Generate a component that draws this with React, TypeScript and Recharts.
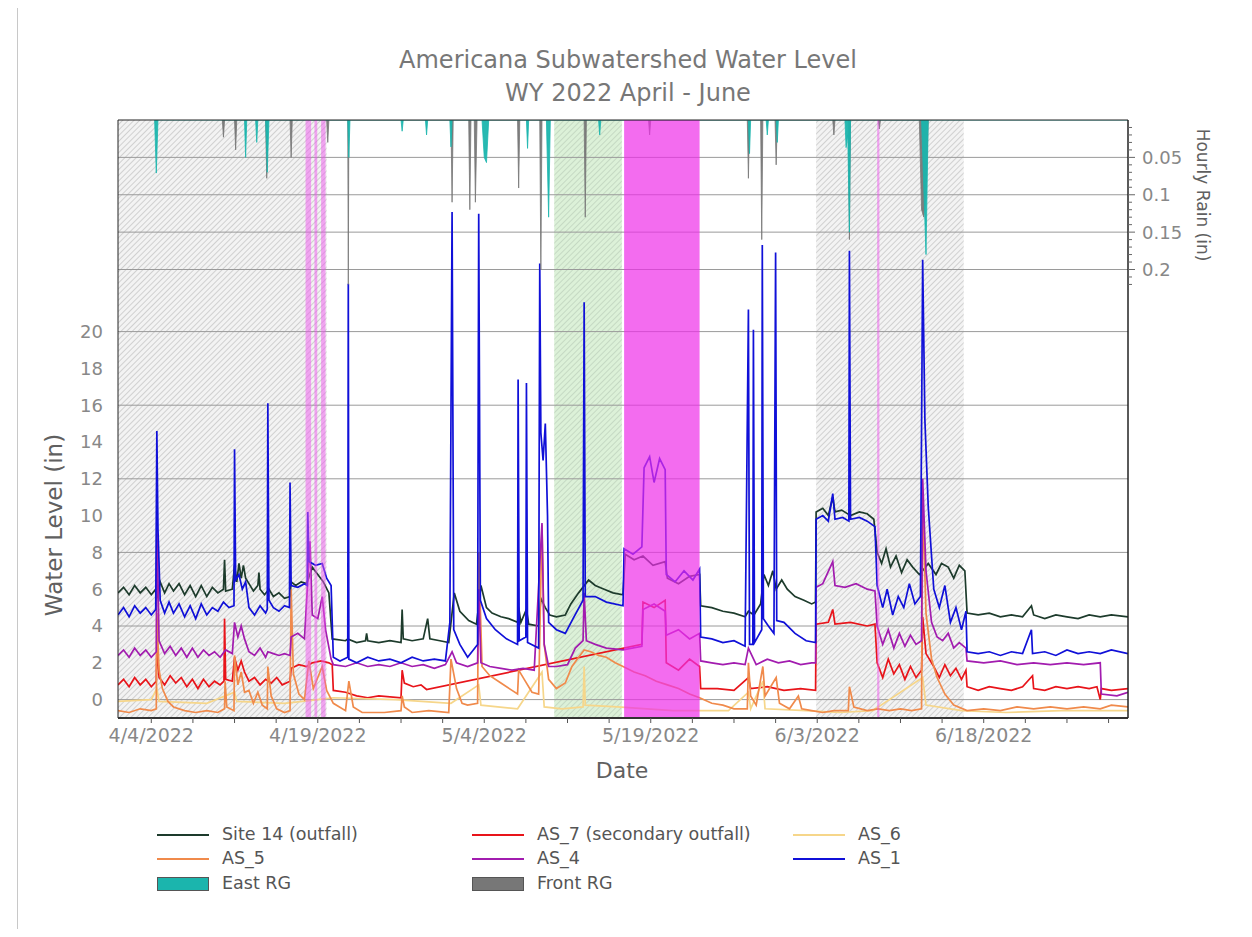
import React from 'react';
import { ComposedChart, Line, Area, XAxis, YAxis, ReferenceArea, ReferenceLine } from 'recharts';

// time axis = days since 4/1/2022 00:00
const xTicks = [3, 6.75, 10.5, 14.25, 18, 21.75, 25.5, 29.25, 33, 36.75, 40.5, 44.25, 48, 51.75, 55.5, 59.25, 63, 66.75, 70.5, 74.25, 78, 81.75, 85.5, 89.25];
const labelDays = [3, 18, 33, 48, 63, 78];
const labelText = ['4/4/2022', '4/19/2022', '5/4/2022', '5/19/2022', '6/3/2022', '6/18/2022'];

const levelTicks = [0, 2, 4, 6, 8, 10, 12, 14, 16, 18, 20];
const levelGrid = [0, 4, 8, 12, 16, 20];
const rainTicks = [0.01, 0.02, 0.03, 0.04, 0.05, 0.06, 0.07, 0.08, 0.09, 0.1, 0.11, 0.12, 0.13, 0.14, 0.15, 0.16, 0.17, 0.18, 0.19, 0.2, 0.21, 0.22];
const rainLabels = [0.05, 0.1, 0.15, 0.2];

const grayBands = [[0, 18.8], [62.9, 76.2]];
const greenBand = [39.3, 45.4];
const magentaBand = [45.6, 52.4];
const pinkStripes = [[16.9, 17.4], [17.7, 17.95], [18.3, 18.7], [68.4, 68.6]];

const site14 = [
  [0, 5.8], [0.5, 6.1], [1, 5.7], [1.5, 6.2], [2, 5.8], [2.5, 6.1], [3, 5.7], [3.4, 6.0], [3.5, 5.5], [3.8, 6.4], [4.2, 5.8], [4.6, 6.3],
  [5, 5.9], [5.5, 6.3], [6, 5.7], [6.5, 6.2], [7, 5.6], [7.5, 6.2], [8, 5.6], [8.5, 6.1], [9, 5.8], [9.5, 6.0], [9.6, 7.6], [9.7, 5.9],
  [10.3, 6.0], [10.5, 7.3], [10.7, 6.4], [10.9, 7.4], [11.1, 6.6], [11.3, 7.3], [11.5, 6.6], [11.8, 6.3], [12.2, 5.9], [12.6, 6.2],
  [12.7, 6.9], [12.8, 6.0], [13.2, 5.7], [13.6, 6.0], [14, 5.6], [14.5, 5.8], [15, 5.5], [15.5, 5.6], [15.6, 6.4], [16, 6.2], [16.5, 6.4],
  [17, 6.3], [17.5, 7.2], [18, 6.8], [18.5, 6.4], [19, 5.8], [19.3, 3.3], [20.5, 3.2], [20.7, 3.3], [21.5, 3.1], [22.3, 3.2], [22.4, 3.6],
  [22.5, 3.2], [23.5, 3.1], [24.5, 3.2], [25.5, 3.1], [25.6, 4.9], [25.7, 3.3], [26.5, 3.2], [27.5, 3.3], [27.9, 4.4], [28.1, 3.3], [29, 3.2],
  [29.8, 3.1], [30.3, 5.8], [30.8, 4.8], [31.6, 4.3], [32.3, 4.1], [32.7, 6.2], [33.2, 5.0], [33.7, 4.7], [34.5, 4.5], [35.2, 4.4], [36, 4.2],
  [36.1, 5.0], [36.3, 4.2], [36.8, 4.9], [37, 4.1], [37.9, 4.0], [38.1, 5.5], [38.5, 5.0], [38.9, 4.6], [39.5, 4.5], [40.3, 4.6], [40.8, 5.2],
  [41.5, 5.8], [42.4, 6.5], [43, 6.2], [43.8, 6.0], [44.6, 5.8], [45.5, 5.7], [45.7, 7.9], [46.5, 7.6], [47.3, 7.8], [48.2, 7.3], [49.3, 7.5],
  [49.5, 6.6], [50.5, 6.3], [51.5, 6.7], [52.4, 6.8], [52.5, 5.1], [53.5, 5.0], [54.5, 4.8], [55.5, 4.7], [56.5, 4.5], [56.8, 4.8], [57.3, 4.6],
  [57.9, 5.2], [58.2, 6.8], [58.6, 6.2], [59, 7.0], [59.3, 6.0], [59.8, 6.5], [60.3, 6.0], [61, 5.6], [61.8, 5.4], [62.5, 5.2], [62.85, 5.3],
  [62.9, 10.2], [63.5, 10.4], [64, 10.0], [64.4, 11.0], [64.6, 10.2], [65.2, 10.3], [66, 10.0], [66.8, 10.2], [67.5, 10.1], [68.1, 9.8],
  [68.4, 8.0], [68.8, 7.4], [69.2, 8.2], [69.6, 7.2], [70.1, 7.8], [70.6, 6.9], [71.1, 7.6], [71.6, 7.2], [72.2, 6.8], [72.5, 7.0], [73, 7.4],
  [73.7, 6.8], [74.2, 7.4], [74.8, 7.2], [75.3, 6.6], [75.8, 7.3], [76.3, 7.0], [76.5, 4.7], [77.5, 4.6], [78.5, 4.7], [79.5, 4.5], [80.5, 4.6],
  [81.5, 4.5], [82.3, 5.1], [82.5, 4.6], [83.5, 4.4], [84.5, 4.6], [85.5, 4.5], [86.5, 4.4], [87.5, 4.6], [88.5, 4.5], [89.5, 4.6], [91, 4.5],
];

const as7 = [
  [0, 0.8], [0.5, 1.1], [1, 0.7], [1.5, 1.2], [2, 0.8], [2.5, 1.1], [3, 0.7], [3.45, 1.0], [3.5, 3.0], [3.7, 1.2], [4.2, 0.8], [4.7, 1.3],
  [5.2, 0.9], [5.7, 1.2], [6.2, 0.7], [6.7, 1.1], [7.2, 0.6], [7.7, 1.1], [8.2, 0.7], [8.7, 1.0], [9.2, 0.8], [9.55, 1.0], [9.6, 4.4], [9.7, 1.1],
  [10.3, 1.0], [10.5, 2.3], [10.8, 1.6], [11.1, 2.1], [11.4, 1.5], [11.8, 1.0], [12.3, 1.2], [12.8, 0.8], [13.3, 1.1], [13.8, 0.9], [14.3, 1.2],
  [14.8, 0.8], [15.5, 1.0], [15.6, 1.7], [16.3, 1.9], [17, 1.8], [17.5, 2.0], [18.3, 2.1], [19, 2.0], [19.3, 1.9], [19.4, 0.5], [20.5, 0.4],
  [21.5, 0.2], [22.5, 0.1], [23.5, 0.2], [25.5, 0.1], [25.6, 1.6], [25.8, 0.9], [26.6, 0.7], [27.3, 0.8], [27.8, 0.55], [47.2, 3.0],
  [47.3, 5.3], [48.3, 5.0], [49.3, 5.4], [49.4, 2.0], [50.5, 1.6], [51.5, 2.2], [52.4, 1.8], [52.5, 0.6], [54, 0.6], [55.5, 0.5], [56.8, 1.2],
  [57, 0.6], [58.5, 0.7], [60, 0.5], [61.5, 0.6], [62.85, 0.5], [62.9, 4.1], [64, 4.2], [64.4, 4.9], [64.6, 4.1], [66, 4.2], [67.5, 4.0],
  [68.2, 4.1], [68.4, 2.0], [68.9, 1.2], [69.4, 2.2], [69.9, 1.4], [70.4, 1.9], [70.9, 1.1], [71.4, 1.8], [71.9, 1.2], [72.4, 1.6], [72.5, 4.5],
  [72.8, 2.5], [73.5, 1.8], [74, 1.2], [74.5, 1.9], [75, 1.3], [75.5, 1.7], [76, 1.1], [76.4, 1.6], [76.5, 0.7], [77.5, 0.5], [78.5, 0.7],
  [79.5, 0.6], [80.5, 0.5], [81.5, 0.7], [82.4, 1.3], [82.5, 0.6], [83.5, 0.5], [84.5, 0.7], [85.5, 0.6], [86.5, 0.7], [87.5, 0.6], [88.2, 0.7],
  [88.5, 0.0], [88.6, 0.6], [89.5, 0.5], [91, 0.6],
];

const as6 = [
  [0, -0.1], [3, 0.0], [3.5, 0.6], [3.7, -0.1], [8, -0.2], [10.5, 0.4], [10.7, -0.1], [15, -0.2], [18, 0.0], [19.4, 0.1], [25, 0.0],
  [30, -0.2], [32.5, 0.8], [32.7, -0.3], [36, -0.5], [38.2, 1.5], [38.4, -0.4], [40, -0.5], [41.9, -0.4], [42, 1.8], [42.1, -0.3], [45, -0.4],
  [50, -0.6], [55, -0.6], [56.8, 0.4], [57, -0.5], [58.1, 1.0], [58.3, -0.5], [62, -0.6], [65, -0.7], [68, -0.6], [72.5, 1.2], [72.8, -0.3],
  [76, -0.6], [80, -0.7], [85, -0.6], [91, -0.6],
];

const as5 = [
  [0, -0.6], [1, -0.7], [2, -0.5], [3, -0.6], [3.45, -0.5], [3.5, 4.7], [3.7, 1.6], [4, 0.6], [4.5, -0.1], [5, -0.4], [6, -0.6], [7, -0.7],
  [8, -0.6], [9, -0.7], [9.6, -0.5], [9.65, 1.0], [9.8, -0.4], [10.45, -0.6], [10.5, 2.4], [10.8, 0.8], [11.1, 1.5], [11.4, 0.4], [11.8, 0.5],
  [12.2, -0.2], [12.6, 0.4], [13, -0.3], [13.45, -0.5], [13.5, 1.8], [13.8, 0.2], [14.3, -0.5], [15, -0.7], [15.5, -0.6], [15.6, 6.0],
  [15.8, 1.4], [16.3, 0.3], [16.8, 0.0], [17.2, 2.1], [17.6, 0.6], [18, 1.2], [18.4, 1.8], [18.8, 0.5], [19.4, -0.2], [20.5, -0.6], [20.8, 1.0],
  [21.2, -0.4], [22, -0.7], [24, -0.7], [25.5, -0.6], [25.6, 0.2], [25.8, -0.4], [26.5, -0.7], [28, -0.6], [29.8, -0.7], [30, 2.2], [30.5, 0.6],
  [31, -0.2], [31.5, -0.3], [32.4, -0.2], [32.5, 8.0], [32.8, 1.8], [33.5, 1.3], [34.5, 0.9], [35.5, 0.5], [36, 0.3], [36.1, 1.6], [36.6, 1.1],
  [37.3, 0.4], [37.9, 0.3], [38.2, 9.5], [38.4, 3.0], [38.8, 1.1], [39.5, 0.6], [40.3, 0.9], [40.9, 1.8], [41.5, 2.3], [42, 2.7], [42.6, 2.6],
  [43.3, 2.4], [44, 2.3], [44.8, 2.0], [45.5, 1.8], [46.5, 1.5], [47.5, 1.3], [48.5, 1.0], [49.5, 0.8], [50.5, 0.6], [51.5, 0.3], [52.4, 0.1],
  [53.5, -0.2], [54.5, -0.3], [55.5, -0.5], [56.7, -0.5], [56.8, 2.0], [57, 0.2], [57.5, -0.3], [58.1, 1.8], [58.3, 0.2], [59.3, 1.2],
  [59.6, -0.2], [60.5, -0.5], [61.3, 0.2], [61.6, -0.5], [62.5, -0.6], [63.5, -0.7], [64.5, -0.6], [65.8, -0.6], [65.9, 0.7], [66.3, -0.4],
  [67.5, -0.6], [68.5, -0.5], [69.5, -0.6], [70.5, -0.5], [71.5, -0.6], [72.4, -0.5], [72.5, 11.0], [72.8, 4.7], [73.3, 2.2], [73.8, 1.2],
  [74.5, 0.3], [75.3, -0.3], [76.5, -0.6], [78, -0.5], [79.5, -0.6], [81, -0.4], [82.5, -0.5], [84, -0.4], [85.5, -0.5], [87, -0.4],
  [88.5, -0.5], [89.5, -0.3], [91, -0.4],
];

const as4 = [
  [0, 2.4], [0.5, 2.7], [1, 2.3], [1.5, 2.8], [2, 2.4], [2.5, 2.7], [3, 2.3], [3.45, 2.6], [3.5, 10.0], [3.7, 3.2], [4.2, 2.5], [4.7, 2.9],
  [5.2, 2.4], [5.7, 2.8], [6.2, 2.3], [6.7, 2.8], [7.2, 2.3], [7.7, 2.7], [8.2, 2.4], [8.7, 2.6], [9.2, 2.3], [9.7, 2.7], [10.3, 2.5],
  [10.5, 4.2], [10.8, 3.4], [11.1, 4.0], [11.4, 3.3], [11.8, 2.6], [12.3, 2.4], [12.8, 2.8], [13.3, 2.3], [13.5, 2.6], [14, 2.5], [14.5, 2.4],
  [15, 2.5], [15.5, 2.4], [15.6, 3.4], [16.2, 3.6], [16.8, 3.3], [17.3, 8.6], [17.5, 4.6], [18, 4.4], [18.4, 5.6], [18.7, 3.8], [19.2, 2.2],
  [19.4, 1.9], [20.5, 1.8], [21.5, 2.0], [22.5, 1.8], [23.5, 1.9], [24.5, 1.8], [25.5, 2.0], [26.5, 1.8], [27.5, 1.9], [28.5, 1.7], [29.5, 1.9],
  [30.1, 2.6], [30.5, 2.0], [31.5, 1.8], [32.4, 2.0], [32.5, 6.0], [32.7, 2.0], [33.5, 1.8], [34.5, 1.7], [35.5, 1.6], [36.5, 1.7], [37.5, 1.6],
  [38.2, 9.6], [38.4, 3.0], [38.8, 1.8], [39.5, 1.8], [40.5, 1.9], [41.2, 2.8], [41.9, 3.2], [42, 5.8], [42.2, 3.2], [43, 3.0], [44, 2.8],
  [45.5, 2.7], [47.2, 2.9], [47.3, 4.9], [48.3, 5.2], [49.3, 4.8], [49.4, 3.5], [50.5, 3.8], [51.5, 3.3], [52.4, 3.6], [52.5, 2.1], [53.5, 2.0],
  [54.5, 1.9], [55.5, 2.0], [56.5, 1.9], [56.8, 2.8], [57.5, 1.9], [58.5, 2.2], [59.5, 2.0], [60.5, 2.1], [61.5, 1.9], [62.5, 2.0],
  [62.85, 2.0], [62.9, 6.1], [63.5, 6.3], [64.4, 7.5], [64.6, 6.2], [65.5, 6.1], [66.5, 6.3], [67.5, 6.0], [68.2, 5.9], [68.4, 4.0], [68.9, 3.0],
  [69.4, 3.8], [69.9, 2.8], [70.4, 3.6], [70.9, 2.9], [71.4, 3.5], [71.9, 3.0], [72.4, 3.2], [72.5, 12.0], [72.8, 7.0], [73.3, 4.2], [73.8, 3.4],
  [74.3, 3.2], [74.8, 3.6], [75.3, 2.8], [75.8, 3.1], [76.4, 2.8], [76.5, 2.1], [78, 2.0], [79.5, 2.1], [81, 1.9], [82.5, 2.0], [84, 1.9],
  [85.5, 2.0], [87, 1.9], [88.5, 2.0], [88.6, 0.3], [90, 0.2], [91, 0.4],
];

const as1 = [
  [0, 4.6], [0.5, 5.0], [1, 4.5], [1.5, 5.1], [2, 4.7], [2.5, 5.0], [3, 4.6], [3.4, 4.9], [3.5, 14.6], [3.6, 9.3], [3.8, 5.4], [4.2, 4.7],
  [4.6, 5.3], [5, 4.7], [5.5, 5.2], [6, 4.5], [6.5, 5.1], [7, 4.4], [7.5, 5.2], [8, 4.6], [8.5, 5.0], [9, 4.8], [9.5, 5.3], [10, 5.0],
  [10.45, 5.1], [10.5, 13.6], [10.6, 6.5], [10.9, 6.8], [11.2, 6.0], [11.5, 6.4], [11.8, 5.0], [12.3, 4.6], [12.8, 5.1], [13.3, 4.7],
  [13.45, 4.9], [13.5, 16.1], [13.6, 5.4], [14, 5.0], [14.5, 4.8], [15, 5.1], [15.45, 5.0], [15.5, 11.8], [15.6, 6.2], [16.2, 6.1], [16.8, 6.3],
  [17.05, 6.2], [17.1, 10.2], [17.2, 7.5], [17.8, 7.3], [18.4, 7.4], [18.8, 6.6], [19.2, 6.2], [19.4, 2.3], [20, 2.1], [20.7, 2.3],
  [20.75, 22.6], [20.8, 2.2], [21.5, 2.0], [22.5, 2.3], [23.5, 2.1], [24.5, 2.2], [25.5, 2.0], [26.5, 2.3], [27.5, 2.1], [28.5, 2.2],
  [29.5, 2.1], [29.9, 4.2], [30.1, 26.5], [30.25, 3.8], [30.8, 3.0], [31.5, 2.3], [32.4, 3.0], [32.5, 26.4], [32.65, 5.4], [33.2, 4.4],
  [34, 3.8], [35, 3.3], [36, 3.0], [36.05, 17.4], [36.15, 3.2], [36.75, 3.4], [36.8, 17.2], [36.9, 3.1], [37.9, 2.8], [38, 23.7], [38.1, 14.5],
  [38.3, 13.0], [38.5, 15.0], [38.7, 10.0], [38.8, 4.2], [39.5, 3.8], [40.3, 3.6], [41, 4.4], [41.9, 5.4], [42, 21.6], [42.1, 5.6], [43, 5.6],
  [44, 5.3], [45.5, 5.1], [45.6, 8.2], [46.4, 7.9], [47.2, 8.3], [47.4, 12.6], [47.9, 13.2], [48.3, 11.8], [48.8, 13.1], [49.3, 12.5],
  [49.4, 6.8], [50.2, 6.4], [51, 7.0], [51.8, 6.5], [52.4, 7.1], [52.5, 3.4], [53.5, 3.3], [54.5, 3.1], [55.5, 3.2], [56.5, 2.9], [56.8, 21.2],
  [56.9, 3.0], [57.2, 3.0], [57.25, 20.1], [57.35, 3.1], [58, 3.8], [58.05, 24.7], [58.15, 4.4], [58.6, 4.0], [59.1, 3.6], [59.25, 24.3],
  [59.35, 4.3], [60, 4.2], [61, 3.6], [62, 3.2], [62.85, 3.1], [62.9, 9.8], [63.5, 10.0], [64, 9.7], [64.4, 11.2], [64.6, 9.8], [65.3, 9.9],
  [65.85, 9.7], [65.9, 24.4], [66, 9.8], [66.8, 9.9], [67.5, 9.7], [68.2, 9.4], [68.4, 6.2], [68.9, 5.0], [69.3, 6.0], [69.8, 4.6], [70.3, 5.6],
  [70.8, 5.0], [71.3, 6.3], [71.8, 5.2], [72.3, 5.6], [72.5, 23.9], [72.7, 15.2], [73, 10.5], [73.5, 6.0], [74, 5.0], [74.5, 6.2], [75, 4.2],
  [75.5, 5.0], [76, 3.8], [76.4, 4.8], [76.5, 2.6], [77.5, 2.5], [78.5, 2.6], [79.5, 2.4], [80.5, 2.6], [81.5, 2.5], [82.3, 3.8], [82.4, 2.5],
  [83.5, 2.6], [84.5, 2.4], [85.5, 2.7], [86.5, 2.5], [87.5, 2.6], [88.5, 2.5], [89.5, 2.7], [91, 2.5],
];

const eastRain = [
  [3.3, 0], [3.45, 0.071], [3.6, 0], [11.4, 0], [11.5, 0.05], [11.6, 0], [12.4, 0], [12.5, 0.03], [12.6, 0], [13.3, 0], [13.45, 0.07], [13.6, 0],
  [20.7, 0], [20.8, 0.05], [20.9, 0], [25.5, 0], [25.6, 0.015], [25.7, 0], [27.7, 0], [27.8, 0.02], [27.9, 0], [29.9, 0], [30, 0.036], [30.1, 0],
  [32.8, 0], [33, 0.05], [33.2, 0.057], [33.4, 0], [36.8, 0], [36.9, 0.038], [37, 0], [38.6, 0], [38.8, 0.13], [38.95, 0], [43.3, 0],
  [43.4, 0.02], [43.5, 0], [56.8, 0], [56.9, 0.045], [57, 0], [58.4, 0], [58.5, 0.02], [58.6, 0], [59.3, 0], [59.4, 0.03], [59.5, 0],
  [65.5, 0], [65.6, 0.037], [65.75, 0.02], [65.9, 0.15], [66, 0], [72.4, 0], [72.8, 0.18], [73, 0], [91, 0],
];

const frontRain = [
  [9.4, 0], [9.5, 0.023], [9.6, 0], [10.5, 0], [10.6, 0.04], [10.7, 0], [13.3, 0], [13.4, 0.078], [13.5, 0], [15.5, 0], [15.6, 0.05], [15.7, 0],
  [18.8, 0], [18.9, 0.03], [19, 0], [20.7, 0], [20.75, 0.22], [20.8, 0], [30, 0], [30.1, 0.11], [30.2, 0], [31.6, 0], [31.7, 0.12], [31.8, 0],
  [32.1, 0], [32.2, 0.11], [32.35, 0], [36, 0], [36.1, 0.091], [36.2, 0], [38, 0], [38.1, 0.2], [38.2, 0], [42, 0], [42.1, 0.13], [42.2, 0],
  [47.8, 0], [47.9, 0.02], [48, 0], [56.7, 0], [56.8, 0.078], [56.9, 0], [57.9, 0], [58, 0.16], [58.1, 0], [59.2, 0], [59.3, 0.06], [59.4, 0],
  [64.4, 0], [64.5, 0.02], [64.6, 0], [65.8, 0], [65.9, 0.16], [66, 0], [68.5, 0], [68.6, 0.012], [68.7, 0], [72.2, 0], [72.4, 0.12],
  [72.6, 0.13], [72.8, 0.1], [73, 0],
];

const FONT = '"DejaVu Sans", Verdana, sans-serif';
const pts = (a: number[][]) => a.map(([t, v]) => ({ t, v }));

const series = [
  { name: 'Site 14 (outfall)', data: site14, color: '#1d3b2c' },
  { name: 'AS_7 (secondary outfall)', data: as7, color: '#e8141a' },
  { name: 'AS_6', data: as6, color: '#f6d68a' },
  { name: 'AS_5', data: as5, color: '#f08a4b' },
  { name: 'AS_4', data: as4, color: '#a21caf' },
  { name: 'AS_1', data: as1, color: '#1010d8' },
];

const RainTick = (props: any) => {
  const { x, y, payload } = props;
  const major = rainLabels.includes(payload.value);
  return (
    <g>
      <line x1={x} y1={y} x2={x + (major ? 7 : 4)} y2={y} stroke="#666" strokeWidth={1} />
      {major && (
        <text x={x + 14} y={y} dy="0.36em" fontSize={18} fill="#888" fontFamily={FONT}>
          {String(payload.value)}
        </text>
      )}
    </g>
  );
};

function LegendBox() {
  const cols = [149, 464, 785];
  const rows = [827, 851, 876];
  const textStyle: React.CSSProperties = { position: 'absolute', fontSize: 17.5, color: '#555', fontFamily: FONT, lineHeight: '20px' };
  return (
    <>
      {series.map((s, i) => {
        const left = cols[i % 3];
        const top = rows[Math.floor(i / 3)];
        return (
          <React.Fragment key={s.name}>
            <div style={{ position: 'absolute', left, top: top - 1, width: 52, height: 2, background: s.color }} />
            <div style={{ ...textStyle, left: left + 65, top: top - 11 }}>{s.name}</div>
          </React.Fragment>
        );
      })}
      {[{ name: 'East RG', color: '#1bb5ad' }, { name: 'Front RG', color: '#777777' }].map((r, i) => (
        <React.Fragment key={r.name}>
          <div style={{ position: 'absolute', left: cols[i], top: rows[2] - 7, width: 52, height: 14, background: r.color, border: '1px solid #555', boxSizing: 'border-box' }} />
          <div style={{ ...textStyle, left: cols[i] + 65, top: rows[2] - 11 }}>{r.name}</div>
        </React.Fragment>
      ))}
    </>
  );
}

export default function App() {
  const center: React.CSSProperties = { position: 'absolute', left: 0, width: 1240, textAlign: 'center', color: '#777', fontFamily: FONT, fontSize: 24 };
  return (
    <div style={{ position: 'relative', width: 1236, height: 921, background: '#fff' }}>
      <div style={{ position: 'absolute', left: 9, top: -3, width: 1226, height: 930, border: '1px solid #c8c8c8' }} />
      <div style={{ ...center, top: 38 }}>Americana Subwatershed Water Level</div>
      <div style={{ ...center, top: 71 }}>WY 2022 April - June</div>
      <div style={{ position: 'absolute', left: 46, top: 517, width: 0, height: 0 }}>
        <div style={{ position: 'absolute', transform: 'translate(-50%, -50%) rotate(-90deg)', whiteSpace: 'nowrap', fontSize: 23, color: '#606060', fontFamily: FONT }}>Water Level (in)</div>
      </div>
      <div style={{ position: 'absolute', left: 1195, top: 187, width: 0, height: 0 }}>
        <div style={{ position: 'absolute', transform: 'translate(-50%, -50%) rotate(90deg)', whiteSpace: 'nowrap', fontSize: 17, color: '#606060', fontFamily: FONT }}>Hourly Rain (in)</div>
      </div>
      <div style={{ position: 'absolute', left: 614, top: 762, width: 0, height: 0 }}>
        <div style={{ position: 'absolute', transform: 'translate(-50%, -50%)', whiteSpace: 'nowrap', fontSize: 22, color: '#606060', fontFamily: FONT }}>Date</div>
      </div>
      <div style={{ position: 'absolute', left: 0, top: 0 }}>
        <ComposedChart width={1236} height={921} margin={{ top: 112, right: 0, bottom: 151, left: 0 }}>
          <defs>
            <pattern id="hatchGray" width="4" height="4" patternUnits="userSpaceOnUse" patternTransform="rotate(45)">
              <rect width="4" height="4" fill="#f3f3f3" />
              <line x1="0" y1="0" x2="0" y2="4" stroke="#bdbdbd" strokeWidth="1.3" />
            </pattern>
            <pattern id="hatchGreen" width="4" height="4" patternUnits="userSpaceOnUse" patternTransform="rotate(45)">
              <rect width="4" height="4" fill="#dcf1d8" />
              <line x1="0" y1="0" x2="0" y2="4" stroke="#b9ccb8" strokeWidth="1.3" />
            </pattern>
          </defs>
          <XAxis
            dataKey="t"
            type="number"
            domain={[0, 91]}
            allowDataOverflow
            ticks={xTicks}
            interval={0}
            height={60}
            tickFormatter={(v: number) => { const i = labelDays.indexOf(v); return i >= 0 ? labelText[i] : ''; }}
            tick={{ fontSize: 19, fill: '#888', fontFamily: FONT }}
            tickSize={5}
            tickMargin={6}
            tickLine={{ stroke: '#555' }}
            axisLine={{ stroke: '#333', strokeWidth: 2 }}
          />
          <YAxis
            yAxisId="left"
            type="number"
            domain={[-1, 31.5]}
            allowDataOverflow
            ticks={levelTicks}
            interval={0}
            width={110}
            tick={{ fontSize: 18, fill: '#888', fontFamily: FONT }}
            tickLine={false}
            tickMargin={9}
            axisLine={false}
          />
          <YAxis
            yAxisId="right"
            orientation="right"
            type="number"
            domain={[0, 0.8]}
            reversed
            allowDataOverflow
            ticks={rainTicks}
            interval={0}
            width={116}
            tickSize={0}
            tickMargin={0}
            tickLine={false}
            tick={<RainTick />}
            axisLine={{ stroke: '#222' }}
          />
          {grayBands.map(([a, b], i) => (
            <ReferenceArea key={'g' + i} yAxisId="left" x1={a} x2={b} y1={-1} y2={31.5} fill="url(#hatchGray)" fillOpacity={1} stroke="none" zIndex={-90} />
          ))}
          <ReferenceArea yAxisId="left" x1={greenBand[0]} x2={greenBand[1]} y1={-1} y2={31.5} fill="url(#hatchGreen)" fillOpacity={1} stroke="none" zIndex={-90} />
          {levelGrid.map((v) => (
            <ReferenceLine key={'l' + v} yAxisId="left" y={v} stroke="#9a9a9a" strokeWidth={1} zIndex={-80} />
          ))}
          {rainLabels.map((v) => (
            <ReferenceLine key={'r' + v} yAxisId="right" y={v} stroke="#9a9a9a" strokeWidth={1} zIndex={-80} />
          ))}
          {series.map((s) => (
            <Line
              key={s.name}
              yAxisId="left"
              data={pts(s.data)}
              dataKey="v"
              name={s.name}
              type="linear"
              stroke={s.color}
              strokeWidth={1.7}
              dot={false}
              activeDot={false}
              isAnimationActive={false}
            />
          ))}
          <Area yAxisId="right" data={pts(frontRain)} dataKey="v" name="Front RG" type="linear" baseValue={0} stroke="#777777" strokeWidth={0.8} fill="#777777" fillOpacity={0.95} isAnimationActive={false} zIndex={450} />
          <Area yAxisId="right" data={pts(eastRain)} dataKey="v" name="East RG" type="linear" baseValue={0} stroke="#1bb5ad" strokeWidth={0.8} fill="#1bb5ad" fillOpacity={0.95} isAnimationActive={false} zIndex={450} />
          <ReferenceArea yAxisId="left" x1={magentaBand[0]} x2={magentaBand[1]} y1={-1} y2={31.5} fill="#ee2ee8" fillOpacity={0.7} stroke="none" zIndex={460} />
          {pinkStripes.map(([a, b], i) => (
            <ReferenceArea key={'p' + i} yAxisId="left" x1={a} x2={b} y1={-1} y2={31.5} fill="#ee55ee" fillOpacity={0.5} stroke="none" zIndex={460} />
          ))}
          <ReferenceArea yAxisId="left" x1={0} x2={91} y1={-1} y2={31.5} fill="none" stroke="#222" strokeWidth={1} zIndex={470} />
        </ComposedChart>
      </div>
      <LegendBox />
    </div>
  );
}
